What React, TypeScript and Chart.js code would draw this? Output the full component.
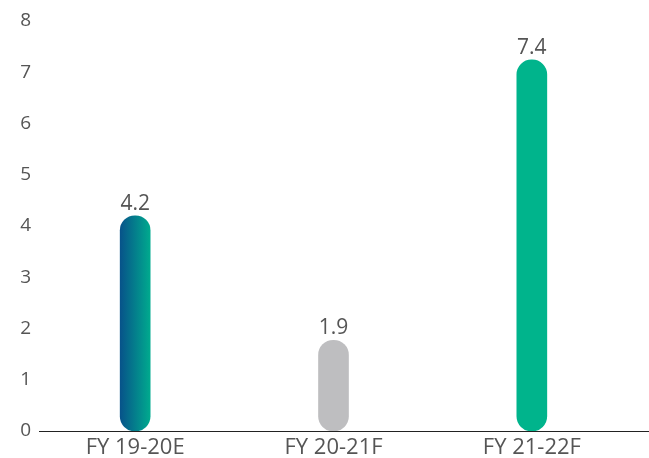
import React, { useEffect, useRef } from "react";
import { Chart, registerables } from "chart.js";

Chart.register(...registerables);

const categories = ["FY 19-20E", "FY 20-21F", "FY 21-22F"];
const barHeights = [4.2, 1.77, 7.24];
const valueLabels = ["4.2", "1.9", "7.4"];
const yTicks = [0, 1, 2, 3, 4, 5, 6, 7, 8];

const FONT = "'Open Sans', 'Noto Sans', sans-serif";
const TEXT = "#555555";

const labelPlugin = {
  id: "valueLabels",
  afterDatasetsDraw(chart: any) {
    const { ctx } = chart;
    const meta = chart.getDatasetMeta(0);
    ctx.save();
    ctx.font = `21px ${FONT}`;
    ctx.fillStyle = TEXT;
    ctx.textAlign = "center";
    ctx.textBaseline = "alphabetic";
    meta.data.forEach((bar: any, i: number) => {
      ctx.fillText(valueLabels[i], bar.x, bar.y - 6);
    });
    ctx.restore();
  },
};

const baselinePlugin = {
  id: "baseline",
  afterDatasetsDraw(chart: any) {
    const { ctx, chartArea } = chart;
    const y = chart.scales.y.getPixelForValue(0);
    ctx.save();
    ctx.strokeStyle = "#222222";
    ctx.lineWidth = 1;
    ctx.beginPath();
    ctx.moveTo(chartArea.left + 3, Math.round(y) + 0.5);
    ctx.lineTo(chart.width, Math.round(y) + 0.5);
    ctx.stroke();
    ctx.restore();
  },
};

export default function App() {
  const ref = useRef<HTMLCanvasElement>(null);
  useEffect(() => {
    if (!ref.current) return;
    const colors = ["#0b5c8c", "#bebec0", "#00b48c"];
    const chart = new Chart(ref.current, {
      type: "bar",
      data: {
        labels: categories,
        datasets: [
          {
            data: barHeights,
            barThickness: 30,
            borderRadius: 15,
            borderSkipped: false,
            backgroundColor: (c: any) => {
              const ch = c.chart;
              if (c.dataIndex === 0 && ch.chartArea && ch.scales && ch.scales.x) {
                const x = ch.scales.x.getPixelForValue(0);
                const g = ch.ctx.createLinearGradient(x - 15, 0, x + 15, 0);
                g.addColorStop(0, "#07538a");
                g.addColorStop(1, "#00aa8e");
                return g;
              }
              return colors[c.dataIndex];
            },
          },
        ],
      },
      options: {
        animation: false,
        responsive: true,
        maintainAspectRatio: false,
        layout: { padding: { top: 21, right: 18, left: 0, bottom: 0 } },
        plugins: { legend: { display: false }, tooltip: { enabled: false } },
        scales: {
          x: {
            grid: { display: false, drawTicks: false },
            border: { display: false },
            afterFit: (s: any) => {
              s.height = 27;
            },
            ticks: { color: TEXT, font: { family: FONT, size: 22 }, padding: 4 },
          },
          y: {
            min: 0,
            max: 8,
            grid: { display: false, drawTicks: false },
            border: { display: false },
            afterFit: (s: any) => {
              s.width = 36;
            },
            afterBuildTicks: (s: any) => {
              s.ticks = yTicks.map((v) => ({ value: v }));
            },
            ticks: { color: TEXT, font: { family: FONT, size: 19 }, padding: 5 },
          },
        },
      },
      plugins: [labelPlugin, baselinePlugin],
    });
    return () => chart.destroy();
  }, []);
  return (
    <div style={{ position: "fixed", left: 0, top: 0, width: 649, height: 458 }}>
      <canvas ref={ref} />
    </div>
  );
}
